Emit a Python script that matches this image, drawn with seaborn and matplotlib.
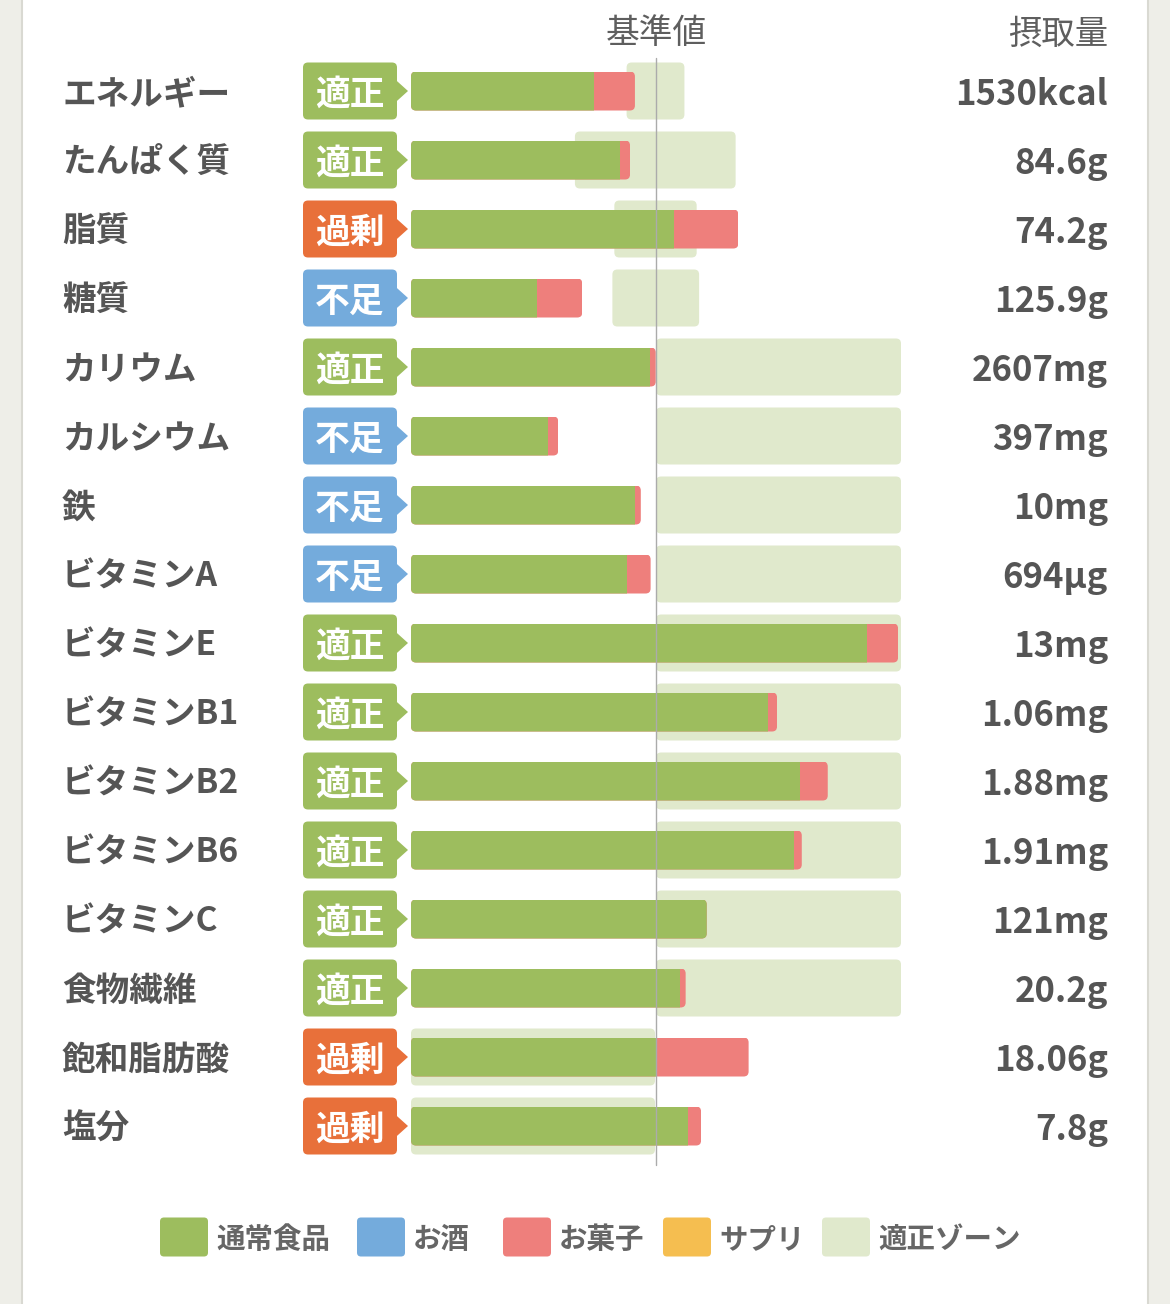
import numpy as np
import pandas as pd
import matplotlib
matplotlib.use("Agg")
import matplotlib.pyplot as plt
import seaborn as sns
from matplotlib.patches import FancyBboxPatch, Polygon, Rectangle

# ---------------- data ----------------
nutrients = ["エネルギー", "たんぱく質", "脂質", "糖質", "カリウム", "カルシウム", "鉄",
             "ビタミンA", "ビタミンE", "ビタミンB1", "ビタミンB2", "ビタミンB6",
             "ビタミンC", "食物繊維", "飽和脂肪酸", "塩分"]
status = ["適正", "適正", "過剰", "不足", "適正", "不足", "不足", "不足",
          "適正", "適正", "適正", "適正", "適正", "適正", "過剰", "過剰"]
intake_labels = ["1530kcal", "84.6g", "74.2g", "125.9g", "2607mg", "397mg", "10mg",
                 "694µg", "13mg", "1.06mg", "1.88mg", "1.91mg", "121mg", "20.2g",
                 "18.06g", "7.8g"]
# percent of reference value (基準値 = 100)
normal_food = [74.5, 85.3, 107.5, 51.3, 97.6, 56.0, 91.6, 88.0,
               186.0, 145.6, 158.8, 156.3, 120.7, 109.8, 100.3, 113.1]
snacks = [16.9, 4.1, 26.1, 18.6, 2.3, 4.1, 2.2, 9.8,
          12.8, 3.8, 11.3, 3.2, 0.0, 2.3, 37.5, 5.3]
zone_low = [88.0, 66.9, 83.0, 82.2, 100, 100, 100, 100,
            100, 100, 100, 100, 100, 100, 0, 0]
zone_high = [111.6, 132.5, 116.6, 117.6, 200, 200, 200, 200,
             200, 200, 200, 200, 200, 200, 99.6, 99.6]
reference_value = 100
legend_labels = ["通常食品", "お酒", "お菓子", "サプリ", "適正ゾーン"]
header_ref = "基準値"
header_intake = "摂取量"

# ---------------- style ----------------
GREEN = "#9dbd5e"
RED = "#ee7f7c"
BLUE = "#74abdc"
YELLOW = "#f5be50"
ZONE = "#e0e9cc"
ORANGE = "#e8703a"
TEXT = "#555555"
status_colors = {"適正": GREEN, "過剰": ORANGE, "不足": BLUE}
legend_colors = [GREEN, BLUE, RED, YELLOW, ZONE]

sns.set_theme(style="white")
plt.rcParams["font.family"] = ["Noto Sans CJK JP", "DejaVu Sans"]

W, H = 1170, 1304
X0_PX, PX_PER_PCT = 411, 2.45      # bar origin and scale
Y0_PX, PX_PER_ROW = 91, 69         # first row centre and row pitch

def px2x(px):
    return (px - X0_PX) / PX_PER_PCT

def py2y(py):
    return (py - Y0_PX) / PX_PER_ROW

ASPECT = PX_PER_PCT / PX_PER_ROW
R = 5 / PX_PER_PCT

fig = plt.figure(figsize=(W / 100, H / 100), dpi=100, facecolor="#eeeee8")
ax = fig.add_axes([0, 0, 1, 1])
ax.set_facecolor("none")

n = len(nutrients)
df = pd.DataFrame({"nutrient": nutrients,
                   "normal": normal_food,
                   "total": np.add(normal_food, snacks)})

BAR_H = 39 / PX_PER_ROW
ZONE_H = 57 / PX_PER_ROW

sns.barplot(data=df, x="total", y="nutrient", color=RED, width=BAR_H,
            orient="h", errorbar=None, saturation=1, linewidth=0, ax=ax, zorder=3)
red_bars = list(ax.patches)
sns.barplot(data=df, x="normal", y="nutrient", color=GREEN, width=BAR_H,
            orient="h", errorbar=None, saturation=1, linewidth=0, ax=ax, zorder=4)
green_bars = [p for p in ax.patches if p not in red_bars]

# rounded clip for stacked bars
for i in range(n):
    tot = df["total"][i]
    clip = FancyBboxPatch((0, i - BAR_H / 2), tot, BAR_H,
                          boxstyle=f"round,pad=0,rounding_size={R}",
                          mutation_aspect=ASPECT, transform=ax.transData)
    red_bars[i].set_clip_path(clip)
    green_bars[i].set_clip_path(clip)

# card background
ax.add_patch(Rectangle((px2x(22), py2y(-10)), px2x(1148) - px2x(22), py2y(H + 10) - py2y(-10),
                       facecolor="white", edgecolor="#d9d9d2", linewidth=1.5, zorder=0))

# zones
for i in range(n):
    ax.add_patch(FancyBboxPatch((zone_low[i], i - ZONE_H / 2), zone_high[i] - zone_low[i], ZONE_H,
                                boxstyle=f"round,pad=0,rounding_size={R}",
                                mutation_aspect=ASPECT, facecolor=ZONE, edgecolor="none",
                                zorder=1))

# reference line
ax.plot([reference_value, reference_value], [py2y(58), py2y(1165)],
        color="#ababab", lw=1, zorder=6)

# badges, labels, values
bx0, bx1, btip = px2x(303), px2x(397), px2x(408)
for i in range(n):
    c = status_colors[status[i]]
    ax.add_patch(FancyBboxPatch((bx0, i - ZONE_H / 2), bx1 - bx0, ZONE_H,
                                boxstyle=f"round,pad=0,rounding_size={R}",
                                mutation_aspect=ASPECT, facecolor=c, edgecolor="none", zorder=2))
    ah = 11 / PX_PER_ROW
    ax.add_patch(Polygon([(bx1 - 0.5, i - ah), (btip, i), (bx1 - 0.5, i + ah)],
                         closed=True, facecolor=c, edgecolor="none", zorder=2))
    ax.text((bx0 + bx1) / 2, i, status[i], ha="center", va="center_baseline",
            fontsize=25, fontweight="bold", color="white", zorder=5)
    ax.text(px2x(62), i, nutrients[i], ha="left", va="center_baseline",
            fontsize=24.2, fontweight="bold", color=TEXT, zorder=5)
    ax.text(px2x(1108), i, intake_labels[i], ha="right", va="center_baseline",
            fontsize=25, fontweight="bold", color=TEXT, zorder=5)

ax.text(reference_value, py2y(30), header_ref, ha="center", va="center_baseline",
        fontsize=24.3, color="#5e5e5e")
ax.text(px2x(1108), py2y(30), header_intake, ha="right", va="center_baseline",
        fontsize=24, color="#5e5e5e")

# legend
ly = py2y(1237)
lh = 39 / PX_PER_ROW
sq_left = [160, 357, 503, 663, 822]
for lab, col, sx in zip(legend_labels, legend_colors, sq_left):
    ax.add_patch(FancyBboxPatch((px2x(sx), ly - lh / 2), 48 / PX_PER_PCT, lh,
                                boxstyle=f"round,pad=0,rounding_size={4 / PX_PER_PCT}",
                                mutation_aspect=ASPECT, facecolor=col, edgecolor="none", zorder=2))
    ax.text(px2x(sx + 56), ly, lab, ha="left", va="center_baseline",
            fontsize=20.5, fontweight="bold", color="#666666", zorder=5)

ax.set_xlim(px2x(0), px2x(W))
ax.set_ylim(py2y(H), py2y(0))
ax.axis("off")

fig.savefig("out.png", dpi=100, facecolor=fig.get_facecolor())
